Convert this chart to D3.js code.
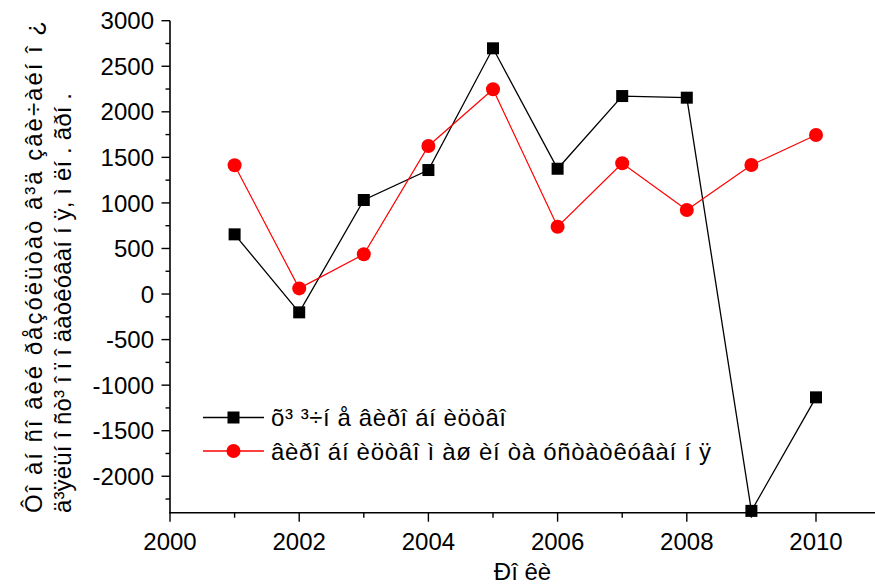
<!DOCTYPE html>
<html><head><meta charset="utf-8">
<script src="https://cdn.jsdelivr.net/npm/d3@7"></script>
<style>body{margin:0;background:#fff}svg{display:block}text{font-family:Arial,"Liberation Sans",sans-serif;fill:#000}</style>
</head><body><svg id="c" width="875" height="586"></svg>
<script>
const years = [2001,2002,2003,2004,2005,2006,2007,2008,2009,2010];
const chemical = [655,-201,1032,1361,2697,1375,2173,2155,-2380,-1134];
const machinery = [1413,62,436,1625,2247,739,1435,922,1416,1745];
const seriesNames = ["õ³ ³÷í å âèðî áí èöòâî","âèðî áí èöòâî  ì  àø èí   òà  óñòàòêóâàí í  ÿ"];
const xTicks = [2000,2002,2004,2006,2008,2010];
const yTicks = [-2000,-1500,-1000,-500,0,500,1000,1500,2000,2500,3000];
const yTitle = ["Ôî àí ñî âèé ðåçóëüòàò â³ä çâè÷àéí î ¿","ä³ÿëüí î ñò³  î ï î äàòêóâàí í ÿ, ì ëí . ãðí ."];
const xTitle = "Ðî êè";

const svg = d3.select("#c");
const x = d3.scaleLinear().domain([2000,2011]).range([170,880.6]);
const y = d3.scaleLinear().domain([-2400,3000]).range([512.7,20.7]);

// y axis
const yAxis = svg.append("g").attr("transform","translate(170,0)");
yAxis.append("line").attr("x1",0).attr("x2",0).attr("y1",y(3000)).attr("y2",y(-2400)+0.5).attr("stroke","#000").attr("stroke-width",1.6);
const yMinor = d3.range(-2250,3000,500);
yAxis.selectAll(".ymi").data(yMinor).join("line").attr("x1",-4.5).attr("x2",0).attr("y1",d=>y(d)).attr("y2",d=>y(d)).attr("stroke","#000").attr("stroke-width",1.4);
yAxis.selectAll(".yma").data(yTicks).join("line").attr("x1",-8.5).attr("x2",0).attr("y1",d=>y(d)).attr("y2",d=>y(d)).attr("stroke","#000").attr("stroke-width",1.4);
yAxis.selectAll(".ytl").data(yTicks).join("text").attr("x",-16).attr("y",d=>y(d)).attr("dy","0.36em").attr("text-anchor","end").attr("font-size",24).text(d=>d);

// x axis
const xAxis = svg.append("g").attr("transform",`translate(0,${y(-2400)})`);
xAxis.append("line").attr("x1",169.2).attr("x2",875).attr("y1",0).attr("y2",0).attr("stroke","#000").attr("stroke-width",1.6);
const xMinor = [2001,2003,2005,2007,2009,2011];
xAxis.selectAll(".xmi").data(xMinor).join("line").attr("x1",d=>x(d)).attr("x2",d=>x(d)).attr("y1",0).attr("y2",5).attr("stroke","#000").attr("stroke-width",1.4);
xAxis.selectAll(".xma").data(xTicks).join("line").attr("x1",d=>x(d)).attr("x2",d=>x(d)).attr("y1",0).attr("y2",9).attr("stroke","#000").attr("stroke-width",1.4);
xAxis.selectAll(".xtl").data(xTicks).join("text").attr("x",d=>x(d)).attr("y",37).attr("text-anchor","middle").attr("font-size",24).text(d=>d);

// titles
svg.append("text").attr("x",522.5).attr("y",580).attr("text-anchor","middle").attr("font-size",24).text(xTitle);
const titleBase = [42,71];
const titleLen = [492,420];
yTitle.forEach((t,i)=>{
  svg.append("text").attr("transform",`translate(${titleBase[i]},513) rotate(-90)`)
    .attr("text-anchor","start").attr("font-size",24)
    .attr("textLength",titleLen[i]).attr("lengthAdjust","spacing").text(t);
});

// lines
const line = d3.line().x((d,i)=>x(years[i])).y(d=>y(d));
svg.append("path").datum(chemical).attr("d",line).attr("fill","none").attr("stroke","#000").attr("stroke-width",1.3);
svg.append("path").datum(machinery).attr("d",line).attr("fill","none").attr("stroke","#ff0000").attr("stroke-width",1.2);

svg.selectAll(".sq").data(chemical).join("rect")
  .attr("x",(d,i)=>x(years[i])-6).attr("y",d=>y(d)-6).attr("width",12).attr("height",12).attr("fill","#000");
svg.selectAll(".ci").data(machinery).join("circle")
  .attr("cx",(d,i)=>x(years[i])).attr("cy",d=>y(d)).attr("r",7).attr("fill","#ff0000");

// legend
const lg = svg.append("g");
const legLen = [235,440];
[{c:"#000",m:"sq",yy:417.5},{c:"#ff0000",m:"ci",yy:451}].forEach((s,i)=>{
  lg.append("line").attr("x1",203).attr("x2",264).attr("y1",s.yy).attr("y2",s.yy).attr("stroke",s.c).attr("stroke-width",1.3);
  if(s.m==="sq") lg.append("rect").attr("x",233.5-6).attr("y",s.yy-6).attr("width",12).attr("height",12).attr("fill","#000");
  else lg.append("circle").attr("cx",233.5).attr("cy",s.yy).attr("r",7).attr("fill",s.c);
  lg.append("text").attr("x",271).attr("y",s.yy).attr("dy","0.36em").attr("font-size",24)
    .attr("textLength",legLen[i]).attr("lengthAdjust","spacing").text(seriesNames[i]);
});
</script></body></html>
